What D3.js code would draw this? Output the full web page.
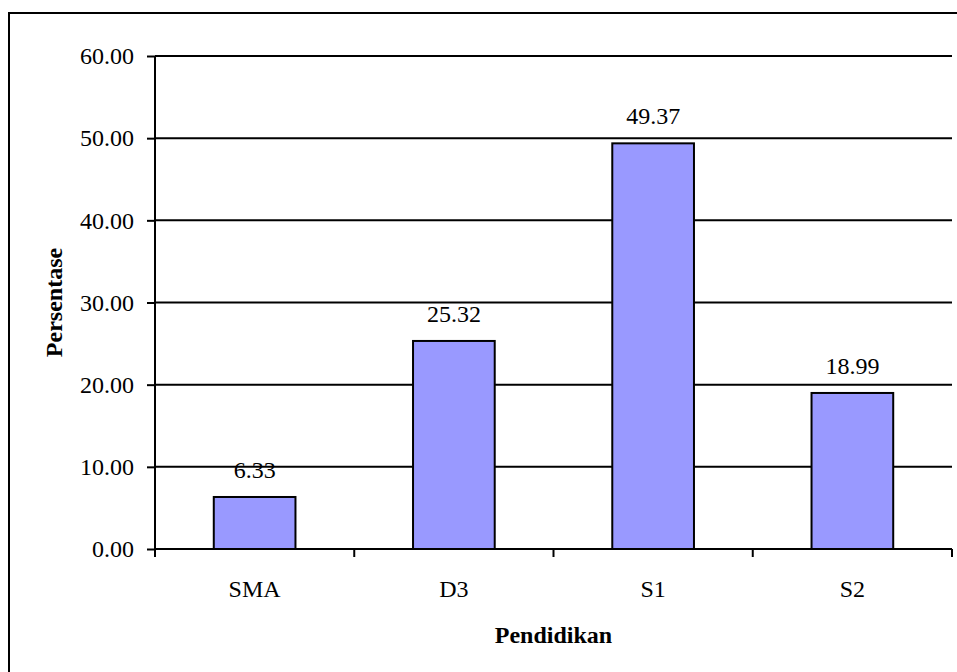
<!DOCTYPE html>
<html>
<head>
<meta charset="utf-8">
<script src="https://cdn.jsdelivr.net/npm/d3@7"></script>
<style>
  html, body { margin: 0; padding: 0; background: #fff; }
  svg { display: block; }
</style>
</head>
<body>
<svg id="chart" width="957" height="672"></svg>
<script>
// Education level distribution (percent)
const categories = ["SMA", "D3", "S1", "S2"];
const values = [6.33, 25.32, 49.37, 18.99];
const yTicks = [0, 10, 20, 30, 40, 50, 60];

const FONT = "'Liberation Serif', 'Times New Roman', serif";
const svg = d3.select("#chart");
const W = 957, H = 672;
const margin = { left: 155, right: 5, top: 56, bottom: 123 };
const plotW = W - margin.left - margin.right;
const plotH = H - margin.top - margin.bottom;

// Frame around the chart area (runs past the page edge on right/bottom)
svg.append("rect")
  .attr("x", 9).attr("y", 13)
  .attr("width", W + 20).attr("height", H + 20)
  .attr("fill", "none").attr("stroke", "#000").attr("stroke-width", 2);

const g = svg.append("g").attr("transform", `translate(${margin.left},${margin.top})`);

const x = d3.scaleBand().domain(categories).range([0, plotW]).paddingInner(0).paddingOuter(0);
const y = d3.scaleLinear().domain([0, 60]).range([plotH, 0]);

// Horizontal gridlines
g.append("g").selectAll("line").data(yTicks.filter(d => d > 0)).join("line")
  .attr("x1", 0).attr("x2", plotW)
  .attr("y1", d => y(d)).attr("y2", d => y(d))
  .attr("stroke", "#000").attr("stroke-width", 2);

// Bars
const barW = x.bandwidth() * 0.41;
g.append("g").selectAll("rect").data(values).join("rect")
  .attr("x", (d, i) => x(categories[i]) + (x.bandwidth() - barW) / 2)
  .attr("y", d => y(d))
  .attr("width", barW)
  .attr("height", d => plotH - y(d))
  .attr("fill", "#9999FF")
  .attr("stroke", "#000").attr("stroke-width", 2);

// Value labels
g.append("g").selectAll("text").data(values).join("text")
  .attr("x", (d, i) => x(categories[i]) + x.bandwidth() / 2)
  .attr("y", d => y(d) - 19)
  .attr("text-anchor", "middle")
  .style("font-family", FONT)
  .style("font-size", "24px")
  .attr("fill", "#000")
  .text(d => d.toFixed(2));

// Y axis
const yAxis = g.append("g")
  .call(d3.axisLeft(y).tickValues(yTicks).tickFormat(d => d.toFixed(2)).tickSize(8).tickPadding(13));
yAxis.select(".domain").attr("stroke-width", 2).attr("d", `M0,0V${plotH}`);
yAxis.selectAll(".tick line").attr("stroke-width", 2);
yAxis.selectAll("text").style("font-family", FONT).style("font-size", "24px").attr("fill", "#000");

// X axis with ticks at category boundaries
const xa = g.append("g").attr("transform", `translate(0,${plotH})`);
xa.append("line").attr("x1", 0).attr("x2", plotW).attr("stroke", "#000").attr("stroke-width", 2);
const bounds = categories.map(c => x(c)).concat([plotW]);
xa.selectAll("line.b").data(bounds).join("line").attr("class", "b")
  .attr("x1", d => d).attr("x2", d => d).attr("y1", 0).attr("y2", 8)
  .attr("stroke", "#000").attr("stroke-width", 2);
xa.selectAll("text").data(categories).join("text")
  .attr("x", d => x(d) + x.bandwidth() / 2)
  .attr("y", 48)
  .attr("text-anchor", "middle")
  .style("font-family", FONT)
  .style("font-size", "24px")
  .text(d => d);

// Axis titles
svg.append("text")
  .attr("x", margin.left + plotW / 2).attr("y", 643)
  .attr("text-anchor", "middle")
  .style("font-family", FONT).style("font-size", "24px").style("font-weight", "bold")
  .text("Pendidikan");
svg.append("text")
  .attr("transform", `translate(62,${margin.top + plotH / 2}) rotate(-90)`)
  .attr("text-anchor", "middle")
  .style("font-family", FONT).style("font-size", "24px").style("font-weight", "bold")
  .text("Persentase");
</script>
</body>
</html>
